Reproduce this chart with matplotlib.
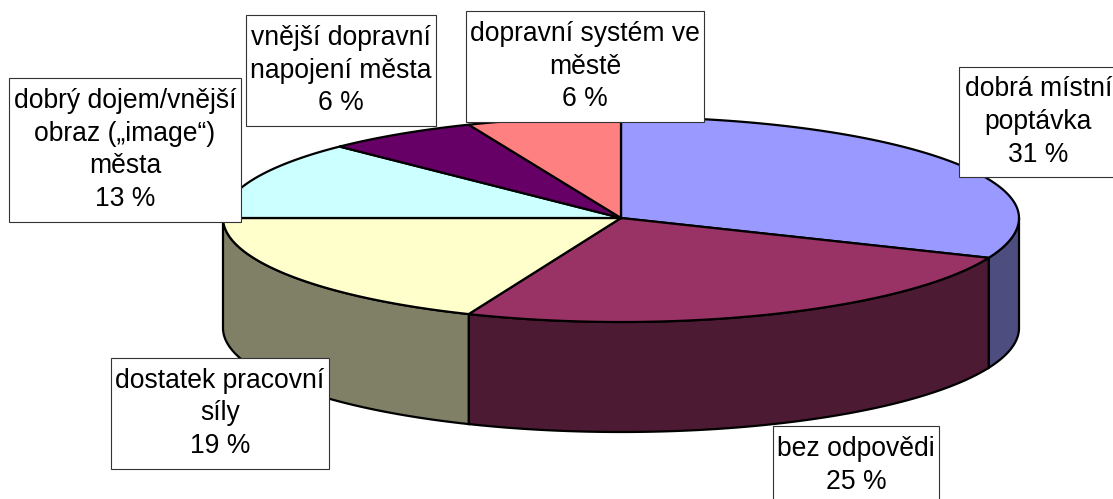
import numpy as np
import matplotlib
matplotlib.use("Agg")
import matplotlib.pyplot as plt

labels = ["dobrá místní\npoptávka\n31 %", "bez odpovědi\n25 %", "dostatek pracovní\nsíly\n19 %",
          "dobrý dojem/vnější\nobraz („image“)\nměsta\n13 %", "vnější dopravní\nnapojení města\n6 %",
          "dopravní systém ve\nměstě\n6 %"]
values = [31.25, 25, 18.75, 12.5, 6.25, 6.25]
top_colors = ["#9999FF", "#993366", "#FFFFCC", "#CCFFFF", "#660066", "#FF8080"]
side_colors = ["#4D4D80", "#4D1A33", "#808066", "#668080", "#330033", "#804040"]

# label boxes: left, top, right, bottom in pixels
boxes = [(959, 67, 1118, 177), (773, 426, 939, 505), (111, 358, 329, 469),
         (9, 78, 241, 222), (246, 15, 436, 126), (466, 11, 704, 122)]

cx, cy, rx, depth = 621, 218, 398, 110
ry_back, ry_front = 101, 104  # back edge is a bit flatter

fig = plt.figure(figsize=(11.13, 4.99), dpi=100)
ax = fig.add_axes([0, 0, 1, 1])
ax.set_xlim(0, 1113)
ax.set_ylim(499, 0)
ax.axis("off")


def ell(theta):
    # theta in degrees, clockwise from the top
    t = np.radians(theta)
    c = np.cos(t)
    return cx + rx * np.sin(t), cy - np.where(c > 0, ry_back, ry_front) * c


edges = np.concatenate([[0], np.cumsum(values)]) * 3.6

# side walls, only the front half shows
for i in range(len(values)):
    a, b = max(edges[i], 90), min(edges[i + 1], 270)
    if a >= b:
        continue
    x, y = ell(np.linspace(a, b, 100))
    px = np.concatenate([x, x[::-1]])
    py = np.concatenate([y, y[::-1] + depth])
    ax.fill(px, py, facecolor=side_colors[i], edgecolor="black", lw=1.6, zorder=2)

# top
for i in range(len(values)):
    x, y = ell(np.linspace(edges[i], edges[i + 1], 150))
    px = np.concatenate([[cx], x])
    py = np.concatenate([[cy], y])
    ax.fill(px, py, facecolor=top_colors[i], edgecolor="black", lw=1.6, zorder=3)

for lab, (l, t, r, b) in zip(labels, boxes):
    ax.add_patch(plt.Rectangle((l, t), r - l, b - t, facecolor="white", edgecolor="#333333", lw=0.8, zorder=4))
    ax.text((l + r) / 2, (t + b) / 2, lab, ha="center", va="center", family="Liberation Sans",
            fontsize=19.1, linespacing=1.34, zorder=5)

fig.savefig("out.png", dpi=100)
